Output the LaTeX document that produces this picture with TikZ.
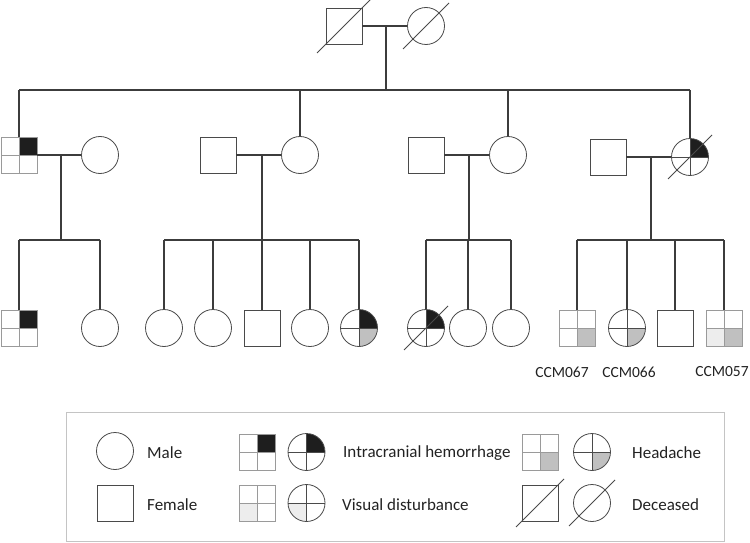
\documentclass[tikz,border=0pt]{standalone}
\usepackage{fontspec}
\setmainfont{Carlito}
\usetikzlibrary{calc}
\definecolor{ichc}{HTML}{1E1E1E}
\definecolor{hac}{HTML}{C0C0C0}
\definecolor{vdc}{HTML}{EDEDED}
\definecolor{linec}{HTML}{3C3C3C}
\definecolor{shapec}{HTML}{4A4A4A}
\definecolor{gridc}{HTML}{9A9A9A}
\definecolor{boxc}{HTML}{C4C4C4}
\definecolor{txtc}{HTML}{222222}
\newcommand{\decslash}[2]{\draw[slashline] ($(#1)+(-#2,#2)$) -- ($(#1)+(#2,-#2)$);}
\tikzset{
  conn/.style={draw=linec, line width=1.3pt},
  slashline/.style={draw=shapec, line width=0.8pt},
  sqn/.style={rectangle, draw=shapec, line width=0.8pt, minimum size=36pt, inner sep=0pt},
  gsq/.style={rectangle, draw=gridc, line width=0.8pt, minimum size=36pt, inner sep=0pt},
  cin/.style={circle, draw=shapec, line width=0.8pt, minimum size=37pt, inner sep=0pt},
  quad/.style n args={5}{path picture={
    \fill[#1] (path picture bounding box.center) rectangle (path picture bounding box.north east);
    \fill[#2] (path picture bounding box.center) rectangle (path picture bounding box.south east);
    \fill[#3] (path picture bounding box.center) rectangle (path picture bounding box.south west);
    \fill[#4] (path picture bounding box.center) rectangle (path picture bounding box.north west);
    \draw[#5, line width=0.7pt] (path picture bounding box.north) -- (path picture bounding box.south)
      (path picture bounding box.west) -- (path picture bounding box.east);}},
  lab/.style={font=\fontsize{15.5}{18}\selectfont, text=txtc, inner sep=0pt},
  leg/.style={font=\fontsize{17}{20}\selectfont, text=txtc, anchor=west, inner sep=0pt},
  legbox/.style={draw=boxc, line width=0.9pt},
}
\begin{document}
\begin{tikzpicture}[x=1pt,y=-1pt]
\useasboundingbox (0,0) rectangle (750,543);

% generation I
\node[sqn] (f0) at (344,26) {};
\node[cin] (m0) at (426,26) {};
\decslash{f0}{27}
\decslash{m0}{23}
\coordinate (c0) at (386,26);
\coordinate (s0) at (386,90);
\draw[conn] (f0) -- (m0);
\draw[conn] (c0) -- (s0);

% generation II
\node[gsq, quad={ichc}{white}{white}{white}{gridc}] (a1) at (19,155) {};
\node[cin] (b1) at (100,155) {};
\node[sqn] (a2) at (218,155) {};
\node[cin] (b2) at (300,155) {};
\node[sqn] (a3) at (426,155) {};
\node[cin] (b3) at (508,155) {};
\node[sqn] (a4) at (608,157) {};
\node[cin, quad={ichc}{white}{white}{white}{shapec}] (b4) at (690,157) {};
\decslash{b4}{22}

\coordinate (L0) at (19,90);
\coordinate (R0) at (690,90);
\draw[conn] (L0) -- (R0);
\draw[conn] (L0) -- (a1);
\draw[conn] (b2|-L0) -- (b2);
\draw[conn] (b3|-L0) -- (b3);
\draw[conn] (R0) -- (b4);

\draw[conn] (a1) -- (b1);
\draw[conn] (a2) -- (b2);
\draw[conn] (a3) -- (b3);
\draw[conn] (a4) -- (b4);

\coordinate (c1) at (61,155);  \coordinate (s1) at (61,240);
\coordinate (c2) at (262,155); \coordinate (s2) at (262,240);
\coordinate (c3) at (469,155); \coordinate (s3) at (469,240);
\coordinate (c4) at (651,157); \coordinate (s4) at (651,240);
\draw[conn] (c1) -- (s1);
\draw[conn] (c2) -- (s2);
\draw[conn] (c3) -- (s3);
\draw[conn] (c4) -- (s4);

% generation III
\node[gsq, quad={ichc}{white}{white}{white}{gridc}] (g11) at (19,328) {};
\node[cin] (g12) at (100,328) {};

\node[cin] (g21) at (164,328) {};
\node[cin] (g22) at (213,328) {};
\node[sqn] (g23) at (262,328) {};
\node[cin] (g24) at (310,328) {};
\node[cin, quad={ichc}{hac}{white}{white}{shapec}] (g25) at (359,328) {};

\node[cin, quad={ichc}{white}{white}{white}{shapec}] (g31) at (426,328) {};
\node[cin] (g32) at (468,328) {};
\node[cin] (g33) at (511,328) {};
\decslash{g31}{22}

\node[gsq, quad={white}{hac}{white}{white}{gridc}] (g41) at (577,328) {};
\node[cin, quad={white}{hac}{white}{white}{shapec}] (g42) at (627,328) {};
\node[sqn] (g43) at (675,328) {};
\node[gsq, quad={white}{hac}{vdc}{white}{gridc}] (g44) at (724,328) {};

\draw[conn] (g11|-s1) -- (g12|-s1);
\draw[conn] (g11|-s1) -- (g11);
\draw[conn] (g12|-s1) -- (g12);

\draw[conn] (g21|-s2) -- (g25|-s2);
\foreach \n in {g21,g22,g23,g24,g25} {\draw[conn] (\n|-s2) -- (\n);}

\draw[conn] (g31|-s3) -- (g33|-s3);
\foreach \n in {g31,g32,g33} {\draw[conn] (\n|-s3) -- (\n);}

\draw[conn] (g41|-s4) -- (g44|-s4);
\foreach \n in {g41,g42,g43,g44} {\draw[conn] (\n|-s4) -- (\n);}

\node[lab] (t1) at (562,372) {CCM067};
\node[lab] (t2) at (629,372) {CCM066};
\node[lab] (t3) at (722,372) {CCM057};

% legend
\draw[legbox] (66,412) rectangle (724,541);
\node[cin] (lm) at (115,451) {};
\node[leg] (lmt) at (147,453) {Male};
\node[sqn] (lf) at (115,503) {};
\node[leg] (lft) at (147,505) {Female};

\node[gsq, quad={ichc}{white}{white}{white}{gridc}] (li1) at (257,452) {};
\node[cin, quad={ichc}{white}{white}{white}{shapec}] (li2) at (306.5,452) {};
\node[leg] (lit) at (343,453) {Intracranial hemorrhage};
\node[gsq, quad={white}{white}{vdc}{white}{gridc}] (lv1) at (257,503) {};
\node[cin, quad={white}{white}{vdc}{white}{shapec}] (lv2) at (306.5,503) {};
\node[leg] (lvt) at (342,505) {Visual disturbance};

\node[gsq, quad={white}{hac}{white}{white}{gridc}] (lh1) at (540,452) {};
\node[cin, quad={white}{hac}{white}{white}{shapec}] (lh2) at (592,452) {};
\node[leg] (lht) at (632,453) {Headache};
\node[sqn] (ld1) at (540,503) {};
\node[cin] (ld2) at (592,503) {};
\decslash{ld1}{24}
\decslash{ld2}{23}
\node[leg] (ldt) at (632,505) {Deceased};
\end{tikzpicture}
\end{document}
